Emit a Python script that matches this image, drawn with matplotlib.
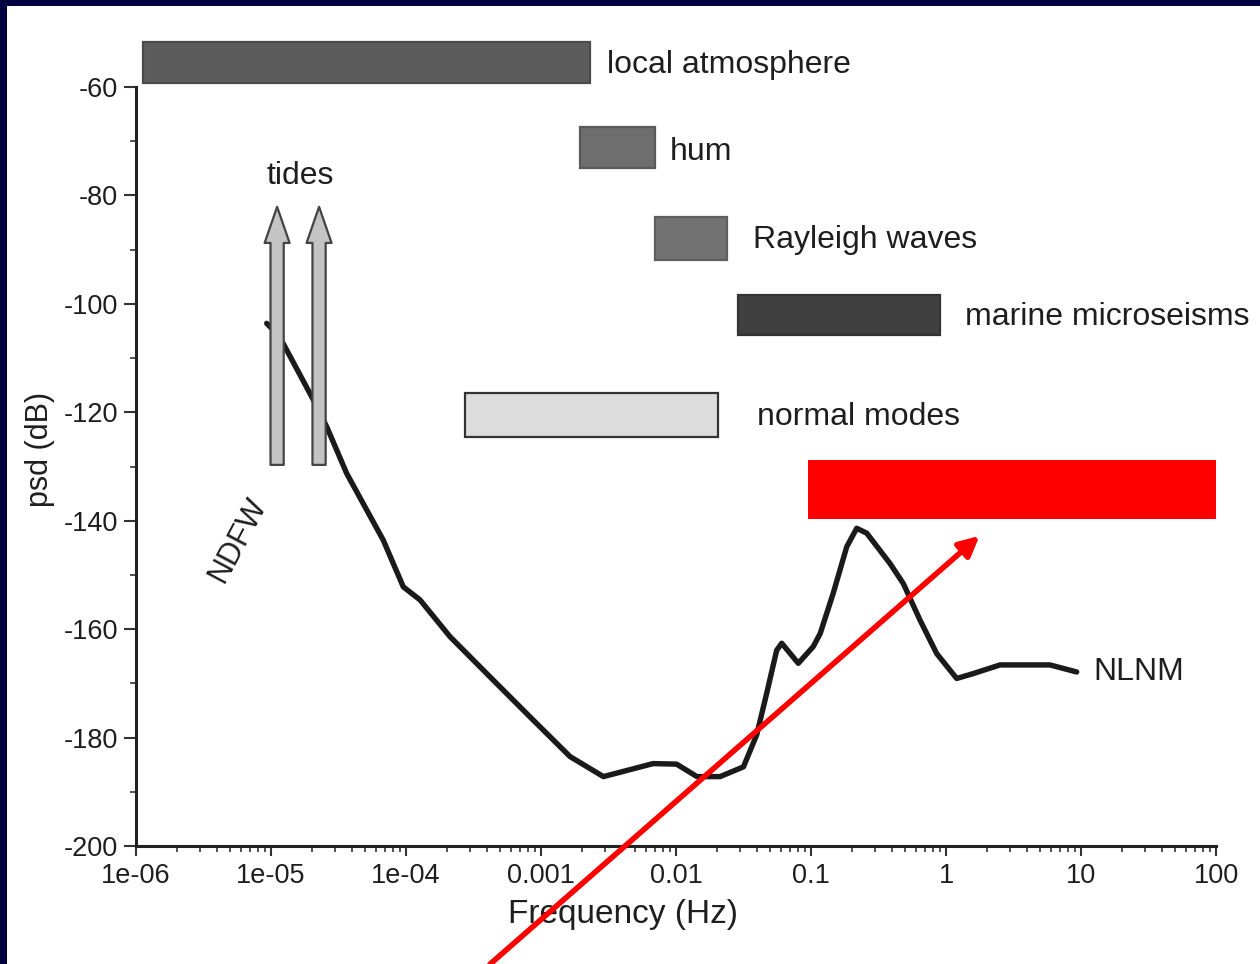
import matplotlib
matplotlib.use("Agg")
import matplotlib.pyplot as plt
from matplotlib.patches import Rectangle
from matplotlib.ticker import FixedLocator, FixedFormatter, NullFormatter

plt.rcParams['font.family'] = ['Liberation Sans', 'DejaVu Sans']

# ---------------- data ----------------
nlnm_freq = [9.29e-6, 1.01e-5, 1.23e-5, 2.06e-5, 2.59e-5, 3.64e-5, 6.79e-5, 9.55e-5,
             1.27e-4, 2.12e-4, 4.19e-4, 8.30e-4, 1.64e-3, 2.90e-3, 6.76e-3, 1.01e-2,
             1.43e-2, 2.12e-2, 3.16e-2, 3.96e-2, 4.70e-2, 5.57e-2, 6.07e-2, 8.05e-2,
             0.104, 0.117, 0.146, 0.184, 0.218, 0.259, 0.385, 0.483, 0.641, 0.853,
             1.20, 1.59, 2.51, 5.89, 9.29]
nlnm_psd = [-103.6, -104.5, -107.3, -117.7, -122.7, -131.3, -143.6, -152.2,
            -154.6, -161.4, -168.8, -176.2, -183.5, -187.2, -184.8, -184.9,
            -187.2, -187.2, -185.4, -179.5, -171.8, -163.9, -162.6, -166.3,
            -163.2, -160.8, -153.4, -144.8, -141.4, -142.3, -147.9, -151.6, -158.3, -164.5,
            -169.1, -168.2, -166.6, -166.6, -167.9]

band_names = ['local atmosphere', 'hum', 'Rayleigh waves', 'marine microseisms', 'normal modes']
band_fmin = [1.13e-6, 1.95e-3, 7.0e-3, 2.88e-2, 2.73e-4]
band_fmax = [2.3e-3, 7.0e-3, 2.39e-2, 0.903, 2.05e-2]
band_top = [-51.7, -67.4, -84.0, -98.4, -116.5]
band_bottom = [-59.3, -74.9, -91.9, -105.8, -124.6]
band_label_x = [3.1e-3, 9.0e-3, 3.7e-2, 1.38, 4.0e-2]
band_label_y = [-55.9, -72.0, -88.2, -102.4, -120.9]

highlight_fmin, highlight_fmax = 0.095, 100
highlight_top, highlight_bottom = -128.8, -139.7

tide_freq = [1.11e-5, 2.27e-5]
tide_psd_from, tide_psd_to = -129.7, -82.1

pointer_from = (4.19e-4, -221.8)
pointer_to = (1.77, -142.8)

xtick_vals = [1e-6, 1e-5, 1e-4, 1e-3, 1e-2, 1e-1, 1, 10, 100]
xtick_labels = ['1e-06', '1e-05', '1e-04', '0.001', '0.01', '0.1', '1', '10', '100']
ytick_vals = [-60, -80, -100, -120, -140, -160, -180, -200]
ytick_labels = ['-60', '-80', '-100', '-120', '-140', '-160', '-180', '-200']

# ---------------- styling ----------------
W, H = 1260, 964
fig = plt.figure(figsize=(W / 100, H / 100), dpi=100)
fig.patch.set_facecolor('#020240')
fig.add_artist(Rectangle((7 / W, 0), 1 - 7 / W, 1 - 6 / H, transform=fig.transFigure,
                         facecolor='white', edgecolor='none', zorder=-10))

ax_left, ax_right = 136 / W, 1216 / W
ax_bottom, ax_top = 1 - 846 / H, 1 - 32.8 / H
ax = fig.add_axes([ax_left, ax_bottom, ax_right - ax_left, ax_top - ax_bottom])
ax.set_facecolor('none')
ax.set_xscale('log')
ax.set_xlim(1e-6, 100)
ax.set_ylim(-200, -50)

txt = '#1e1e1e'
band_colors = ['#5c5c5c', '#6e6e6e', '#727272', '#404040', '#dcdcdc']
band_edges = ['#4a4a4a', '#5a5a5a', '#5e5e5e', '#333333', '#333333']
for i, name in enumerate(band_names):
    ax.barh((band_top[i] + band_bottom[i]) / 2, band_fmax[i] - band_fmin[i],
            left=band_fmin[i], height=band_top[i] - band_bottom[i],
            color=band_colors[i], edgecolor=band_edges[i], linewidth=1.6, zorder=2)
    ax.text(band_label_x[i], band_label_y[i], name, fontsize=23, color=txt,
            ha='left', va='center', zorder=5)

ax.barh((highlight_top + highlight_bottom) / 2, highlight_fmax - highlight_fmin,
        left=highlight_fmin, height=highlight_top - highlight_bottom,
        color='#ff0000', edgecolor='none', zorder=2)

ax.plot(nlnm_freq, nlnm_psd, color='#1a1a1a', lw=3.9, solid_joinstyle='round',
        solid_capstyle='round', zorder=3)

for f in tide_freq:
    ax.annotate('', xy=(f, tide_psd_to), xytext=(f, tide_psd_from),
                arrowprops=dict(arrowstyle='simple,head_length=2.6,head_width=1.8,tail_width=0.95',
                                mutation_scale=10, fc='#c4c4c4', ec='#444444', lw=1.6,
                                shrinkA=0, shrinkB=0), zorder=4)

ax.text(1.64e-5, -76.4, 'tides', fontsize=23, color=txt, ha='center', va='center')
ax.text(12.3, -167.9, 'NLNM', fontsize=23, color=txt, ha='left', va='center')
ax.text(5.7e-6, -143.6, 'NDFW', fontsize=22, color=txt, ha='center', va='center',
        rotation=62, rotation_mode='anchor')

ax.annotate('', xy=pointer_to, xytext=pointer_from, annotation_clip=False,
            arrowprops=dict(arrowstyle='-|>,head_length=0.6,head_width=0.3',
                            mutation_scale=20, color='#ff0000', lw=4,
                            shrinkA=0, shrinkB=0), zorder=6)

# axes
for s in ['top', 'right']:
    ax.spines[s].set_visible(False)
for s in ['left', 'bottom']:
    ax.spines[s].set_linewidth(2.2)
    ax.spines[s].set_color('#222222')
ax.spines['left'].set_bounds(-200, -60)

ax.xaxis.set_major_locator(FixedLocator(xtick_vals))
ax.xaxis.set_major_formatter(FixedFormatter(xtick_labels))
ax.xaxis.set_minor_formatter(NullFormatter())
ax.yaxis.set_major_locator(FixedLocator(ytick_vals))
ax.yaxis.set_major_formatter(FixedFormatter(ytick_labels))
ax.yaxis.set_minor_locator(FixedLocator([-70, -90, -110, -130, -150, -170, -190]))
ax.tick_params(axis='both', which='major', labelsize=19.5, labelcolor=txt, color='#333333',
               width=1.5, direction='out')
ax.tick_params(axis='y', which='major', length=9, pad=4)
ax.tick_params(axis='x', which='major', length=7, pad=5)
ax.tick_params(axis='both', which='minor', length=4, width=1.2, color='#333333', direction='out')

ax.set_xlabel('Frequency (Hz)', fontsize=24, color=txt)
ax.xaxis.label.set_va('center')
ax.xaxis.set_label_coords((623 - 136) / 1080, -(914 - 846) / 813.2)
ax.set_ylabel('psd (dB)', fontsize=22, color=txt)
ax.yaxis.label.set_va('center')
ax.yaxis.set_label_coords((40 - 136) / 1080, (846 - 449) / 813.2)

fig.savefig('out.png', dpi=100, facecolor=fig.get_facecolor())
